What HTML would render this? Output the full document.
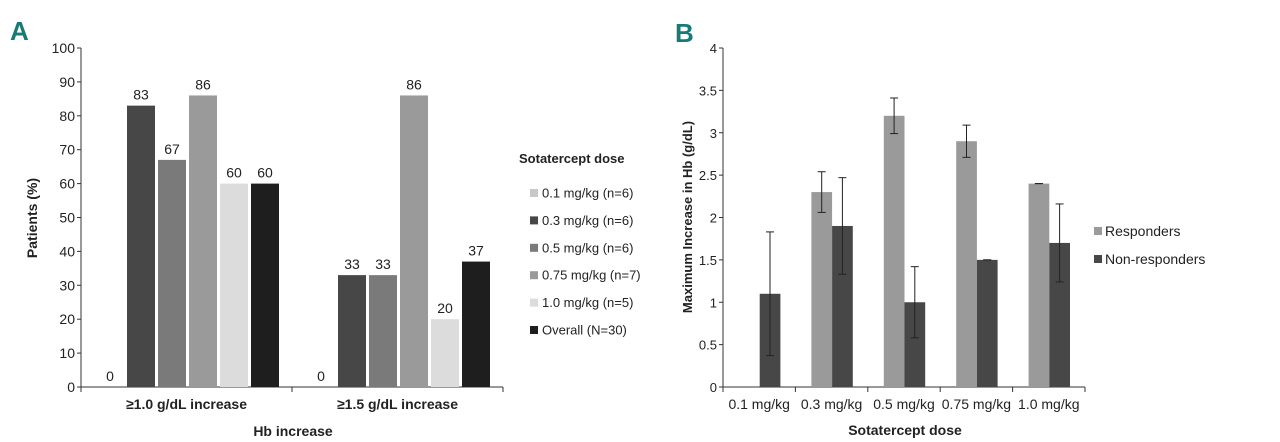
<!DOCTYPE html>
<html><head><meta charset="utf-8"><style>
body{margin:0;background:#fff}
svg{display:block;font-family:"Liberation Sans",sans-serif}
</style></head><body>
<svg id="c" width="1280" height="442" viewBox="0 0 1280 442">
<text x="10" y="40" font-size="26" font-weight="bold" fill="#167a78">A</text>
<text x="675" y="42" font-size="26" font-weight="bold" fill="#167a78">B</text>
<g id="A"></g>
<g id="B"></g>
</svg>
<script>
const aGroups=["≥1.0 g/dL increase","≥1.5 g/dL increase"];
const aSeries=["0.1 mg/kg (n=6)","0.3 mg/kg (n=6)","0.5 mg/kg (n=6)","0.75 mg/kg (n=7)","1.0 mg/kg (n=5)","Overall (N=30)"];
const aValues=[[0,83,67,86,60,60],[0,33,33,86,20,37]];
const aColors=["#c8c8c8","#474747","#7a7a7a","#9a9a9a","#dcdcdc","#1e1e1e"];
const aTicks=[0,10,20,30,40,50,60,70,80,90,100];
const bCats=["0.1 mg/kg","0.3 mg/kg","0.5 mg/kg","0.75 mg/kg","1.0 mg/kg"];
const bResp=[0,2.3,3.2,2.9,2.4];
const bRespLo=[0,2.06,2.99,2.71,2.4];
const bRespHi=[0,2.54,3.41,3.09,2.4];
const bNon=[1.1,1.9,1.0,1.5,1.7];
const bNonLo=[0.37,1.33,0.58,1.5,1.24];
const bNonHi=[1.83,2.47,1.42,1.5,2.16];
const bTicks=[0,0.5,1,1.5,2,2.5,3,3.5,4];
const NS="http://www.w3.org/2000/svg";
function el(p,t,a,txt){const e=document.createElementNS(NS,t);for(const k in a)e.setAttribute(k,a[k]);if(txt!==undefined)e.textContent=txt;p.appendChild(e);return e;}
// Panel A
const A=document.getElementById('A');
const ax0=81,ax1=503,ay0=387,ay1=48;
const ya=v=>ay0-(v/100)*(ay0-ay1);
const band=(ax1-ax0)/aGroups.length;
let e;
e=el(A,'line',{x1:ax0,y1:ay1,x2:ax0,y2:ay0,stroke:'#333'});


e=el(A,'line',{x1:ax0,y1:ay0,x2:ax1,y2:ay0,stroke:'#333'});


aTicks.forEach(t=>{
 el(A,'line',{x1:ax0-4,y1:ya(t),x2:ax0,y2:ya(t),stroke:'#333'});
 e=el(A,'text',{x:ax0-6,y:ya(t)+5,'text-anchor':'end','font-size':14,fill:'#222'},t);
 
 
});
for(let g=0;g<=aGroups.length;g++){el(A,'line',{x1:ax0+g*band,y1:ay0,x2:ax0+g*band,y2:ay0+5,stroke:'#333'});}
aGroups.forEach((gname,g)=>{
 const gx=ax0+g*band;
 e=el(A,'text',{x:gx+band/2,y:409,'text-anchor':'middle','font-size':14,'font-weight':'bold',fill:'#222'},gname);
 
 
 aValues[g].forEach((v,s)=>{
  const x=gx+15+s*31;
  e=el(A,'rect',{x:x,y:ya(v),width:28,height:ay0-ya(v),fill:aColors[s]});
  
  
  e=el(A,'text',{x:x+14,y:ya(v)-6,'text-anchor':'middle','font-size':14,fill:'#222'},v);
  
  
 });
});
e=el(A,'text',{x:0,y:0,transform:'translate(37,218) rotate(-90)','text-anchor':'middle','font-size':14,'font-weight':'bold',fill:'#222'},'Patients (%)');


e=el(A,'text',{x:293,y:436,'text-anchor':'middle','font-size':14,'font-weight':'bold',fill:'#222'},'Hb increase');


e=el(A,'text',{x:519,y:163,'font-size':13,'font-weight':'bold',fill:'#222'},'Sotatercept dose');


aSeries.forEach((s,i)=>{
 const y=193+i*27.4;
 el(A,'rect',{x:530,y:y-4,width:8,height:8,fill:aColors[i]});
 e=el(A,'text',{x:542,y:y+4.5,'font-size':13,fill:'#222'},s);
 
 
});
// Panel B
const B=document.getElementById('B');
const bx0=723,bx1=1085,by0=387,by1=48;
const yb=v=>by0-(v/4)*(by0-by1);
const bb=(bx1-bx0)/bCats.length;
e=el(B,'line',{x1:bx0,y1:by1,x2:bx0,y2:by0,stroke:'#333'});


e=el(B,'line',{x1:bx0,y1:by0,x2:bx1,y2:by0,stroke:'#333'});


bTicks.forEach(t=>{
 el(B,'line',{x1:bx0-4,y1:yb(t),x2:bx0,y2:yb(t),stroke:'#333'});
 e=el(B,'text',{x:bx0-6,y:yb(t)+5,'text-anchor':'end','font-size':13,fill:'#222'},t);
 
 
});
for(let i=0;i<=bCats.length;i++){el(B,'line',{x1:bx0+i*bb,y1:by0,x2:bx0+i*bb,y2:by0+5,stroke:'#333'});}
function eb(x,lo,hi){
 const g=el(B,'g',{stroke:'#222','stroke-width':1});
 
 
 el(g,'line',{x1:x,y1:yb(lo),x2:x,y2:yb(hi)});
 el(g,'line',{x1:x-4,y1:yb(lo),x2:x+4,y2:yb(lo)});
 el(g,'line',{x1:x-4,y1:yb(hi),x2:x+4,y2:yb(hi)});
}
bCats.forEach((c,i)=>{
 const x=bx0+i*bb+16;
 e=el(B,'rect',{x:x,y:yb(bResp[i]),width:20.7,height:by0-yb(bResp[i]),fill:'#9a9a9a'});
 
 
 e=el(B,'rect',{x:x+20.7,y:yb(bNon[i]),width:20.7,height:by0-yb(bNon[i]),fill:'#474747'});
 
 
 if(bResp[i]>0)eb(x+10.3,bRespLo[i],bRespHi[i]);
 eb(x+31,bNonLo[i],bNonHi[i]);
 e=el(B,'text',{x:bx0+i*bb+bb/2,y:409,'text-anchor':'middle','font-size':14,fill:'#222'},c);
 
 
});
e=el(B,'text',{x:0,y:0,transform:'translate(692,217) rotate(-90)','text-anchor':'middle','font-size':13,'font-weight':'bold',fill:'#222'},'Maximum Increase in Hb (g/dL)');


e=el(B,'text',{x:905,y:435,'text-anchor':'middle','font-size':14,'font-weight':'bold',fill:'#222'},'Sotatercept dose');


[["Responders","#9a9a9a"],["Non-responders","#474747"]].forEach((l,i)=>{
 const y=231+i*28;
 el(B,'rect',{x:1094,y:y-4,width:8,height:8,fill:l[1]});
 e=el(B,'text',{x:1105,y:y+5,'font-size':14,fill:'#222'},l[0]);
 
 
});
</script>
</body></html>
